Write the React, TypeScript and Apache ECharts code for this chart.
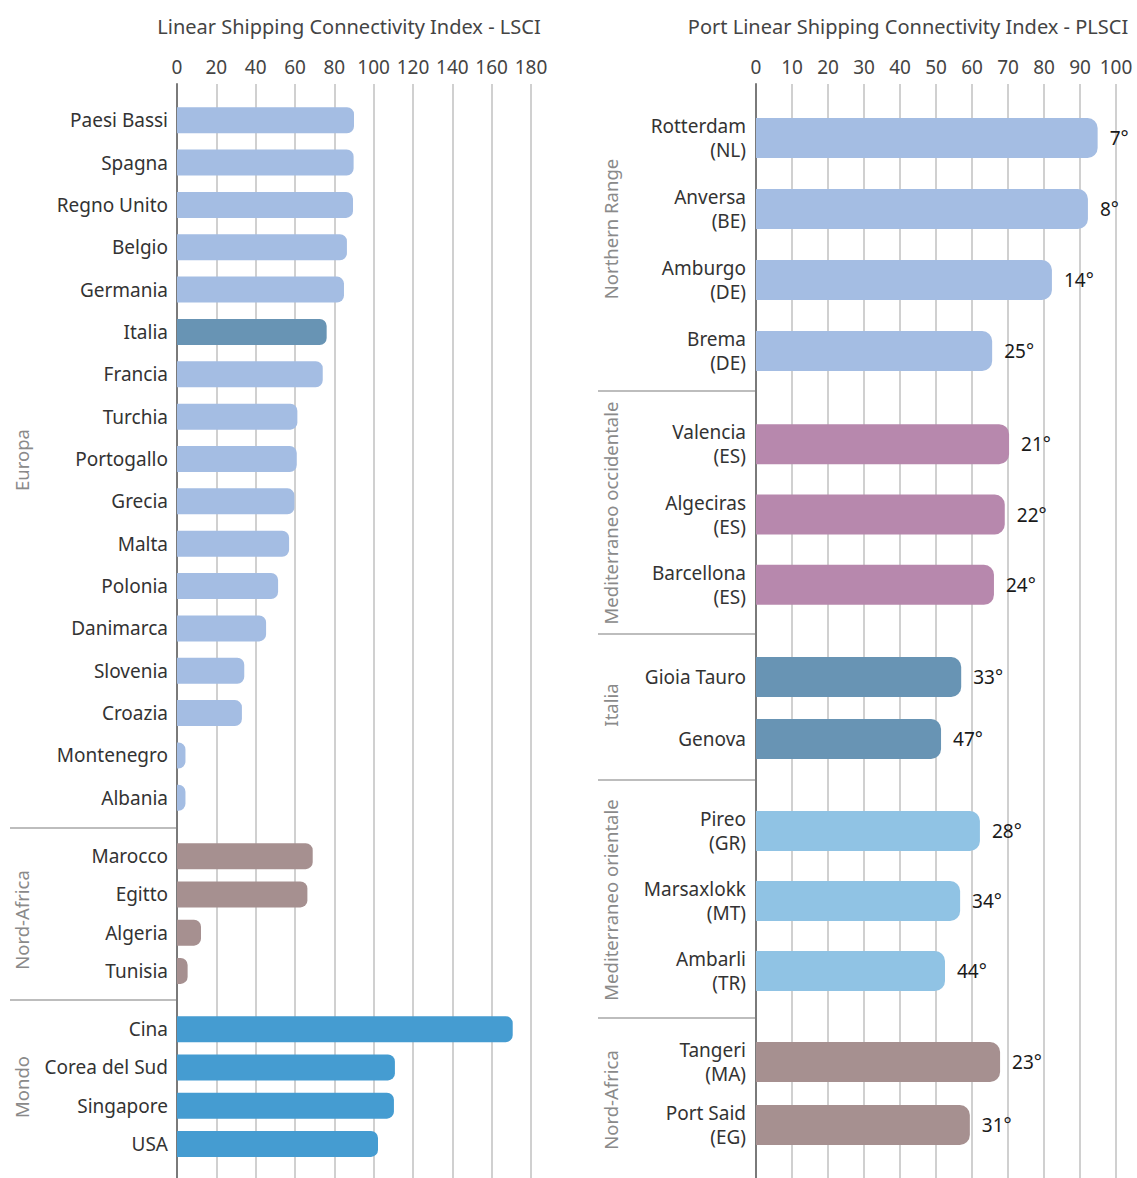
import { useEffect, useRef } from "react";
import * as echarts from "echarts";

// ---------- Data ----------
const europeCountries = [
  "Paesi Bassi", "Spagna", "Regno Unito", "Belgio", "Germania", "Italia", "Francia",
  "Turchia", "Portogallo", "Grecia", "Malta", "Polonia", "Danimarca", "Slovenia",
  "Croazia", "Montenegro", "Albania",
];
const europeValues = [90.0, 89.8, 89.5, 86.4, 84.9, 76.1, 74.1, 61.2, 60.9, 59.7, 57.0, 51.4, 45.3, 34.2, 33.0, 4.3, 4.3];
const nafCountries = ["Marocco", "Egitto", "Algeria", "Tunisia"];
const nafValues = [69.0, 66.3, 12.2, 5.4];
const worldCountries = ["Cina", "Corea del Sud", "Singapore", "USA"];
const worldValues = [170.7, 110.8, 110.3, 102.2];

const northPorts = ["Rotterdam\n(NL)", "Anversa\n(BE)", "Amburgo\n(DE)", "Brema\n(DE)"];
const northValues = [94.9, 92.2, 82.2, 65.6];
const northRanks = ["7°", "8°", "14°", "25°"];
const medOccPorts = ["Valencia\n(ES)", "Algeciras\n(ES)", "Barcellona\n(ES)"];
const medOccValues = [70.3, 69.1, 66.1];
const medOccRanks = ["21°", "22°", "24°"];
const itaPorts = ["Gioia Tauro", "Genova"];
const itaValues = [57.0, 51.4];
const itaRanks = ["33°", "47°"];
const medOrPorts = ["Pireo\n(GR)", "Marsaxlokk\n(MT)", "Ambarli\n(TR)"];
const medOrValues = [62.2, 56.7, 52.5];
const medOrRanks = ["28°", "34°", "44°"];
const nafPorts = ["Tangeri\n(MA)", "Port Said\n(EG)"];
const nafPortValues = [67.8, 59.4];
const nafPortRanks = ["23°", "31°"];

const LSCI_MAX = 180;
const LSCI_STEP = 20;
const PLSCI_MAX = 100;
const PLSCI_STEP = 10;

// ---------- Styles ----------
const FONT = "Noto Sans";
const C_EUROPE = "#a4bde3";
const C_ITALY = "#6894b4";
const C_NAF = "#a69090";
const C_WORLD = "#459cd1";
const C_MEDOCC = "#b788ad";
const C_MEDOR = "#90c3e4";

export default function App() {
  const ref = useRef<HTMLDivElement>(null);

  useEffect(() => {
    document.body.style.margin = "0";
    const chart = echarts.init(ref.current!, null, { renderer: "svg" });

    const LX = 177, LW = 354;
    const RX = 756, RW = 360;

    const leftGroups = [
      { cats: europeCountries, vals: europeValues, top: 99, height: 720, color: (p: any) => (p.name === "Italia" ? C_ITALY : C_EUROPE) },
      { cats: nafCountries, vals: nafValues, top: 837, height: 153, color: C_NAF },
      { cats: worldCountries, vals: worldValues, top: 1010, height: 153, color: C_WORLD },
    ];
    const rightGroups = [
      { cats: northPorts, vals: northValues, ranks: northRanks, top: 102.5, height: 284, color: C_EUROPE },
      { cats: medOccPorts, vals: medOccValues, ranks: medOccRanks, top: 409, height: 211, color: C_MEDOCC },
      { cats: itaPorts, vals: itaValues, ranks: itaRanks, top: 646, height: 124, color: C_ITALY },
      { cats: medOrPorts, vals: medOrValues, ranks: medOrRanks, top: 796, height: 210, color: C_MEDOR },
      { cats: nafPorts, vals: nafPortValues, ranks: nafPortRanks, top: 1030.5, height: 126, color: C_NAF },
    ];

    const grid: any[] = [];
    const xAxis: any[] = [];
    const yAxis: any[] = [];
    const series: any[] = [];

    const bgAxis = (left: number, width: number, max: number, step: number) => {
      const idx = grid.length;
      grid.push({ left, width, top: 84, height: 1094 });
      xAxis.push({
        gridIndex: idx, type: "value", position: "top", min: 0, max, interval: step,
        axisLine: { show: false }, axisTick: { show: false },
        axisLabel: { fontFamily: FONT, fontSize: 19, color: "#444", margin: 8 },
        splitLine: { show: true, lineStyle: { color: "#d0d0d0", width: 2 } },
      });
      yAxis.push({
        gridIndex: idx, type: "value", min: 0, max: 1,
        axisLine: { show: true, lineStyle: { color: "#7a7a7a", width: 2 } },
        axisTick: { show: false }, axisLabel: { show: false }, splitLine: { show: false },
      });
    };
    bgAxis(LX, LW, LSCI_MAX, LSCI_STEP);
    bgAxis(RX, RW, PLSCI_MAX, PLSCI_STEP);

    leftGroups.forEach((g) => {
      const idx = grid.length;
      grid.push({ left: LX, width: LW, top: g.top, height: g.height });
      xAxis.push({ gridIndex: idx, type: "value", min: 0, max: LSCI_MAX, show: false });
      yAxis.push({
        gridIndex: idx, type: "category", data: g.cats, inverse: true,
        axisLine: { show: false }, axisTick: { show: false },
        axisLabel: { fontFamily: FONT, fontSize: 19, color: "#333", margin: 9 },
      });
      series.push({
        type: "bar", xAxisIndex: idx, yAxisIndex: idx, data: g.vals, barWidth: 26,
        itemStyle: { color: g.color, borderRadius: [0, 7, 7, 0] },
      });
    });

    rightGroups.forEach((g) => {
      const idx = grid.length;
      grid.push({ left: RX, width: RW, top: g.top, height: g.height });
      xAxis.push({ gridIndex: idx, type: "value", min: 0, max: PLSCI_MAX, show: false });
      yAxis.push({
        gridIndex: idx, type: "category", data: g.cats, inverse: true,
        axisLine: { show: false }, axisTick: { show: false },
        axisLabel: { fontFamily: FONT, fontSize: 19, color: "#333", margin: 10, lineHeight: 24, align: "right" },
      });
      const ranks = g.ranks;
      series.push({
        type: "bar", xAxisIndex: idx, yAxisIndex: idx, data: g.vals, barWidth: 40,
        itemStyle: { color: g.color, borderRadius: [0, 10, 10, 0] },
        label: {
          show: true, position: "right", distance: 12,
          formatter: (p: any) => ranks[p.dataIndex],
          fontFamily: FONT, fontSize: 19, color: "#1a1a1a",
        },
      });
    });

    const sep = (x1: number, x2: number, y: number) => ({
      type: "line", shape: { x1, y1: y, x2, y2: y },
      style: { stroke: "#bdbdbd", lineWidth: 2 }, silent: true,
    });
    const vText = (text: string, x: number, y: number) => ({
      type: "text", x, y, rotation: Math.PI / 2,
      style: { text, fill: "#8a8a8a", font: `18.5px ${FONT}`, align: "center", verticalAlign: "middle" },
    });
    const title = (text: string, x: number, y: number) => ({
      type: "text", x, y,
      style: { text, fill: "#444", font: `20px ${FONT}`, align: "center", verticalAlign: "middle" },
    });

    chart.setOption({
      animation: false,
      grid, xAxis, yAxis, series,
      graphic: [
        title("Linear Shipping Connectivity Index - LSCI", 349, 26),
        title("Port Linear Shipping Connectivity Index - PLSCI", 908, 26),
        sep(10, 176, 828),
        sep(10, 176, 1000),
        sep(598, 755, 391),
        sep(598, 755, 634),
        sep(598, 755, 780),
        sep(598, 755, 1018),
        vText("Europa", 21, 460),
        vText("Nord-Africa", 21, 920),
        vText("Mondo", 21, 1087),
        vText("Northern Range", 610, 229),
        vText("Mediterraneo occidentale", 610, 513),
        vText("Italia", 610, 705),
        vText("Mediterraneo orientale", 610, 900),
        vText("Nord-Africa", 610, 1100),
      ],
    });

    return () => chart.dispose();
  }, []);

  return <div ref={ref} style={{ width: 1137, height: 1178 }} />;
}
